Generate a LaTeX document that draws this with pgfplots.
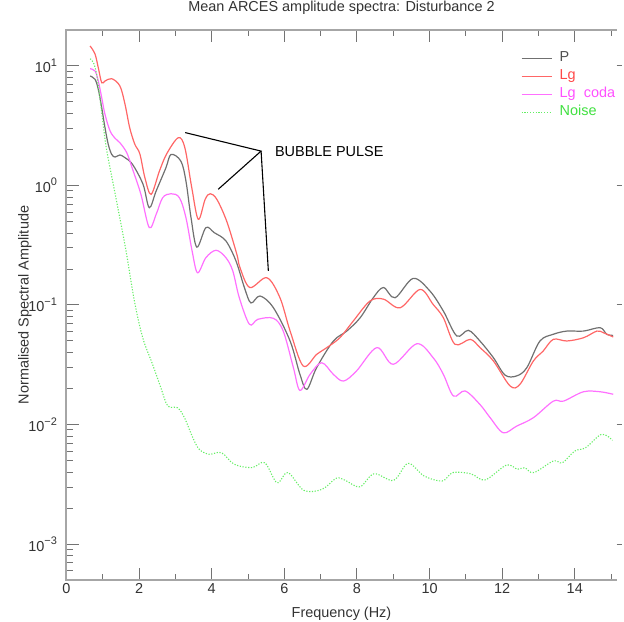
\documentclass[border=0pt]{standalone}
\usepackage{fontspec}
\setmainfont{Liberation Sans}
\usepackage{pgfplots}
\pgfplotsset{compat=1.18}

\definecolor{pcol}{HTML}{707070}
\definecolor{lgcol}{HTML}{FF6666}
\definecolor{codacol}{HTML}{FF70FF}
\definecolor{noisecol}{HTML}{66EE66}
\definecolor{ptxt}{HTML}{505050}
\definecolor{lgtxt}{HTML}{FF4848}
\definecolor{codatxt}{HTML}{FF50FF}
\definecolor{noisetxt}{HTML}{40E040}

\newcommand{\lbl}{\fontsize{14.5}{17}\selectfont}
\newcommand{\dec}[1]{10\raisebox{0.85ex}{\fontsize{11}{11}\selectfont #1}}

\begin{document}
\begin{tikzpicture}
\begin{axis}[
  scale only axis, width=550bp, height=550bp,
  ymode=log,
  xmin=0, xmax=15.15, ymin=5e-4, ymax=20,
  clip=false,
  axis line style={draw=none},
  xtick={0,2,...,14}, xticklabels={0,2,4,6,8,10,12,14},
  minor xtick={1,3,...,15},
  ytick={1e-3,1e-2,1e-1,1,10},
  yticklabels={\dec{−3},\dec{−2},\dec{−1},\dec{0},\dec{1}},
  minor ytick={6e-4,7e-4,8e-4,9e-4,
    2e-3,3e-3,4e-3,5e-3,6e-3,7e-3,8e-3,9e-3,
    0.02,0.03,0.04,0.05,0.06,0.07,0.08,0.09,
    0.2,0.3,0.4,0.5,0.6,0.7,0.8,0.9,
    2,3,4,5,6,7,8,9},
  ytick pos=left,
  major tick length=12bp, minor tick length=6.5bp,
  tick style={black!55, line width=1bp},
  tick label style={font=\lbl, text=black!80},
  yticklabel style={xshift=-6bp},
  title={Mean ARCES amplitude spectra: Disturbance 2},
  title style={at={(0.5,1)}, anchor=base, yshift=13bp, font=\lbl, text=black!80},
  xlabel={Frequency (Hz)},
  xlabel style={at={(0.5,0)}, anchor=base, yshift=-37bp, font=\lbl, text=black!80},
  ylabel={Normalised Spectral Amplitude},
  ylabel style={at={(-0.069,0.5)}, anchor=base, font=\lbl, text=black!80},
  legend style={at={(0.826,0.964)}, anchor=north west, draw=none, fill=none,
    inner sep=0pt, row sep=1.5bp, column sep=6bp, font=\lbl,
    nodes={inner sep=1.5bp, text height=10.5bp, text depth=3bp}},
  legend image code/.code={\draw[#1] (0bp,0bp) -- (30bp,0bp);},
  legend cell align=left,
]
% P
\addplot[pcol, line width=1.2bp, smooth, tension=0.55] coordinates {
(0.65,8.24)(0.785,7.74)(0.876,6.38)(0.97,4.48)(1.06,3.05)(1.15,2.21)(1.245,1.82)
(1.34,1.73)(1.47,1.80)(1.61,1.71)(1.82,1.50)(2.11,1.02)(2.28,0.652)(2.47,0.900)
(2.74,1.41)(2.88,1.82)(3.15,1.60)(3.29,1.09)(3.43,0.538)(3.59,0.305)(3.84,0.444)
(4.07,0.403)(4.39,0.344)(4.67,0.233)(4.90,0.140)(5.08,0.104)(5.33,0.119)(5.70,0.0948)
(6.16,0.0499)(6.43,0.0263)(6.62,0.0197)(6.89,0.0299)(7.35,0.0499)(7.72,0.0605)
(8.09,0.0783)(8.45,0.115)(8.73,0.140)(9.05,0.115)(9.55,0.167)(10.01,0.131)
(10.38,0.0891)(10.75,0.0551)(11.07,0.0614)(11.39,0.0499)(11.76,0.0362)(12.08,0.0259)
(12.40,0.0255)(12.68,0.0299)(13.04,0.0499)(13.41,0.0569)(13.78,0.0605)(14.24,0.0605)
(14.70,0.0646)(14.88,0.0569)(15.06,0.0557)
};
\addlegendentry{\textcolor{ptxt}{P}}
% Lg
\addplot[lgcol, line width=1.2bp, smooth, tension=0.55] coordinates {
(0.65,14.7)(0.785,12.6)(0.876,9.66)(0.97,7.24)(1.06,7.48)(1.245,7.83)(1.47,6.81)
(1.61,4.81)(1.74,3.05)(1.88,2.22)(2.02,1.84)(2.16,1.16)(2.33,0.843)(2.56,1.32)
(2.76,1.84)(3.08,2.51)(3.26,2.07)(3.45,0.96)(3.63,0.521)(3.82,0.767)(3.96,0.853)
(4.14,0.767)(4.41,0.505)(4.69,0.267)(4.78,0.205)(5.05,0.140)(5.52,0.169)(5.88,0.115)
(6.16,0.0605)(6.52,0.0309)(6.89,0.0386)(7.17,0.0440)(7.53,0.0532)(7.90,0.0735)
(8.36,0.108)(8.73,0.112)(9.19,0.0948)(9.74,0.135)(10.10,0.101)(10.38,0.0783)
(10.70,0.0469)(11.12,0.0516)(11.39,0.0440)(11.76,0.0340)(12.22,0.0210)(12.49,0.0217)
(12.86,0.0340)(13.13,0.0412)(13.41,0.0516)(13.78,0.0500)(14.24,0.0532)(14.61,0.0605)
(14.79,0.0586)(15.06,0.0540)
};
\addlegendentry{\textcolor{lgtxt}{Lg}}
% Lg coda
\addplot[codacol, line width=1.2bp, smooth, tension=0.55] coordinates {
(0.65,9.48)(0.785,9.08)(0.876,7.48)(0.97,5.43)(1.06,3.94)(1.20,2.86)(1.34,2.48)
(1.47,2.28)(1.66,1.88)(1.82,1.37)(2.05,0.843)(2.28,0.444)(2.47,0.574)(2.65,0.791)
(2.88,0.853)(3.11,0.791)(3.29,0.538)(3.46,0.283)(3.61,0.186)(3.84,0.249)(4.12,0.287)
(4.39,0.249)(4.58,0.193)(4.76,0.115)(5.04,0.0689)(5.27,0.0759)(5.70,0.0774)
(5.97,0.0605)(6.25,0.0299)(6.43,0.0193)(6.71,0.0263)(7.03,0.0329)(7.35,0.0263)
(7.63,0.0231)(7.99,0.0281)(8.55,0.0440)(9.00,0.0319)(9.65,0.0474)(10.10,0.0362)
(10.38,0.0263)(10.66,0.0173)(10.98,0.0191)(11.39,0.0147)(11.67,0.0114)(12.03,0.00853)
(12.40,0.00970)(12.86,0.0114)(13.41,0.0157)(13.69,0.0157)(14.24,0.0188)(14.70,0.0188)
(15.06,0.0179)
};
\addlegendentry{\textcolor{codatxt}{Lg\ \ coda}}
% Noise
\addplot[noisecol, line width=1.1bp, dash pattern=on 1.2bp off 1.6bp, smooth, tension=0.55] coordinates {
(0.65,11.5)(0.74,10.7)(0.83,8.53)(0.92,5.43)(1.01,3.25)(1.11,1.95)(1.36,0.791)
(1.64,0.283)(1.87,0.108)(2.10,0.0532)(2.37,0.0319)(2.60,0.0203)(2.79,0.0143)
(3.06,0.0138)(3.25,0.0114)(3.48,0.00776)(3.66,0.00619)(3.93,0.00564)(4.27,0.00581)
(4.62,0.00465)(5.11,0.00436)(5.46,0.00479)(5.80,0.00326)(6.10,0.00396)(6.54,0.00281)
(7.04,0.00287)(7.43,0.00355)(7.68,0.00341)(8.08,0.00301)(8.47,0.00387)(9.01,0.00341)
(9.41,0.00473)(9.85,0.00371)(10.35,0.00337)(10.64,0.00396)(11.14,0.00387)(11.53,0.00344)
(12.12,0.00458)(12.42,0.00422)(12.62,0.00435)(12.87,0.00396)(13.41,0.00495)(13.66,0.00479)
(14.00,0.00600)(14.30,0.00640)(14.74,0.00828)(15.04,0.00738)
};
\addlegendentry{\textcolor{noisetxt}{Noise}}

% frame: left, bottom and top only
\draw[black!35, line width=2bp] (rel axis cs:1,1) -- (rel axis cs:0,1) -- (rel axis cs:0,0) -- (rel axis cs:1,0);
\pgfplotsinvokeforeach{-3,-2,-1,0,1}{
  \draw[black!55, line width=1bp] (axis cs:15.15,1e#1) -- ++(5bp,0bp);
}
% annotation
\draw[black, line width=1.1bp] (axis cs:3.27,2.77) -- (axis cs:5.36,1.94) -- (axis cs:4.18,0.93);
\draw[black, line width=1.1bp] (axis cs:5.36,1.94) -- (axis cs:5.56,0.193);
\node[anchor=west, inner sep=0pt, font=\lbl] at (axis cs:5.74,1.94) {BUBBLE PULSE};

\coordinate (bl) at (rel axis cs:0,0);
\coordinate (tr) at (rel axis cs:1,1);
\end{axis}
\pgfresetboundingbox
\path (bl) ++(-66.5bp,-42bp) rectangle ([shift={(7.5bp,30bp)}]tr);
\end{tikzpicture}
\end{document}
